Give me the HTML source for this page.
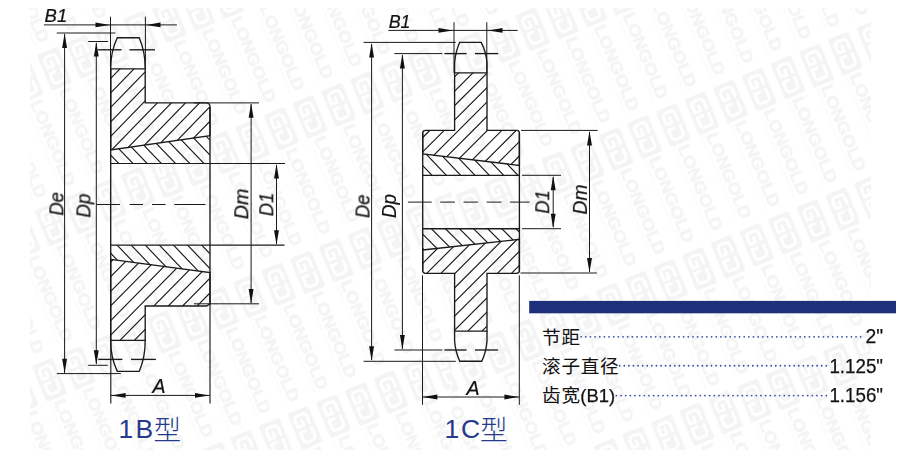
<!DOCTYPE html>
<html lang="zh">
<head>
<meta charset="utf-8">
<title>1B / 1C sprocket dimensions</title>
<style>
html,body{margin:0;padding:0;background:#fff}
body{width:900px;height:450px;overflow:hidden;position:relative;font-family:"Liberation Sans",sans-serif}
svg{position:absolute;left:0;top:0;display:block}
.ln{fill:none;stroke:#1a1a1a;stroke-linecap:butt;stroke-linejoin:miter}
.ln .ah{fill:#111;stroke:none}
text{font-family:"Liberation Sans","Noto Sans CJK SC",sans-serif}
.it{font-style:italic;fill:#111;stroke:#111;stroke-width:0.22;filter:url(#ga)}
.rg{fill:#111;stroke:#111;stroke-width:0.25;filter:url(#ga)}
.hid{fill:transparent;fill-opacity:0}
.dots{stroke:#3f4ea4;stroke-width:1.85;stroke-linecap:round;fill:none}
</style>
</head>
<body>
<svg width="900" height="450" viewBox="0 0 900 450">
<defs>
<filter id="ga" x="-20%" y="-20%" width="140%" height="140%" color-interpolation-filters="sRGB"><feOffset dx="0" dy="0"/></filter>
<pattern id="wmL" width="142.6" height="31.05" patternUnits="userSpaceOnUse" patternTransform="translate(278.9 284.4) rotate(67.4) translate(-19.5 -15.525)"><g transform="translate(19.5 15.525)"><rect x="-19.5" y="-11.25" width="39" height="22.5" rx="2.2" fill="#f4f4f4"/><g fill="none" stroke="#fff" stroke-width="3" stroke-linecap="round" stroke-linejoin="round"><path d="M-3.2,-6.2H-10.4a3.6,3.6 0 0 0 -3.6,3.6v5.2a3.6,3.6 0 0 0 3.6,3.6h7.4v-6h-5.2"/><path d="M2.6,0.6v5.6h7.8a3.6,3.6 0 0 0 3.6,-3.6v-5.2a3.6,3.6 0 0 0 -3.6,-3.6h-8"/></g><text x="21.8" y="4.6" font-family="'Liberation Sans',sans-serif" font-weight="700" font-size="16" fill="#f4f4f4" stroke="#f4f4f4" stroke-width="0.55" textLength="92" lengthAdjust="spacingAndGlyphs">LONGOLD</text><line x1="23" y1="8.8" x2="113" y2="8.8" stroke="#f4f4f4" stroke-width="2.4" stroke-dasharray="1.4 1.0" opacity="0.45"/></g></pattern>
<pattern id="wmR" width="142.6" height="31.05" patternUnits="userSpaceOnUse" patternTransform="translate(644.7 137.2) rotate(67.4) translate(-19.5 -15.525)"><g transform="translate(19.5 15.525)"><rect x="-19.5" y="-11.25" width="39" height="22.5" rx="2.2" fill="#f4f4f4"/><g fill="none" stroke="#fff" stroke-width="3" stroke-linecap="round" stroke-linejoin="round"><path d="M-3.2,-6.2H-10.4a3.6,3.6 0 0 0 -3.6,3.6v5.2a3.6,3.6 0 0 0 3.6,3.6h7.4v-6h-5.2"/><path d="M2.6,0.6v5.6h7.8a3.6,3.6 0 0 0 3.6,-3.6v-5.2a3.6,3.6 0 0 0 -3.6,-3.6h-8"/></g><text x="21.8" y="4.6" font-family="'Liberation Sans',sans-serif" font-weight="700" font-size="16" fill="#f4f4f4" stroke="#f4f4f4" stroke-width="0.55" textLength="92" lengthAdjust="spacingAndGlyphs">LONGOLD</text><line x1="23" y1="8.8" x2="113" y2="8.8" stroke="#f4f4f4" stroke-width="2.4" stroke-dasharray="1.4 1.0" opacity="0.45"/></g></pattern>
<clipPath id="b1"><path d="M110.7,68.8L145.2,68.8L145.2,102.9L206.0,102.9Q210.0,102.9 210.0,106.9L210.0,135.7L110.7,150.0Z"/></clipPath>
<clipPath id="b2"><path d="M110.7,150.0L210.0,135.7L210.0,163.5L110.7,163.5Z"/></clipPath>
<clipPath id="b3"><path d="M110.7,245.2L210.0,245.2L210.0,272.7L110.7,259.3Z"/></clipPath>
<clipPath id="b4"><path d="M110.7,259.3L210.0,272.7L210.0,303.8L206.6,306.0L145.2,306.0L145.2,340.3L110.7,340.3Z"/></clipPath>
<clipPath id="c1"><path d="M454.6,72.8L487.0,72.8L487.0,130.4L516.6,130.4Q519.4,130.4 519.4,133.20000000000002L519.4,165.4L422.7,154.0L422.7,133.20000000000002Q422.7,130.4 425.5,130.4L454.6,130.4Z"/></clipPath>
<clipPath id="c2"><path d="M422.7,154.0L519.4,165.4L519.4,175.3L422.7,175.3Z"/></clipPath>
<clipPath id="c3"><path d="M422.7,228.7L519.4,228.7L519.4,239.3L422.7,250.0Z"/></clipPath>
<clipPath id="c4"><path d="M422.7,250.0L519.4,239.3L519.4,270.5Q519.4,273.3 516.6,273.3L487.0,273.3L487.0,331.1L454.6,331.1L454.6,273.3L425.5,273.3Q422.7,273.3 422.7,270.5Z"/></clipPath>
</defs>
<rect x="30" y="8" width="421.5" height="442" fill="url(#wmL)"/>
<rect x="451.5" y="8" width="419.5" height="442" fill="url(#wmR)"/>
<g class="ln">
<path clip-path="url(#b1)" stroke-width="1.15" d="M110.7,49.4L210,-52.88M110.7,63.9L210,-38.38M110.7,78.4L210,-23.88M110.7,92.9L210,-9.38M110.7,107.4L210,5.13M110.7,121.91L210,19.63M110.7,136.41L210,34.13M110.7,150.91L210,48.63M110.7,165.41L210,63.14M110.7,179.92L210,77.64M110.7,194.42L210,92.14M110.7,208.92L210,106.64M110.7,223.42L210,121.15M110.7,237.93L210,135.65M110.7,252.43L210,150.15M110.7,266.93L210,164.65M110.7,281.43L210,179.15"/>
<path clip-path="url(#b2)" stroke-width="1.15" d="M110.7,184.62L210,287.89M110.7,169.85L210,273.12M110.7,155.08L210,258.35M110.7,140.31L210,243.58M110.7,125.54L210,228.82M110.7,110.78L210,214.05M110.7,96.01L210,199.28M110.7,81.24L210,184.51M110.7,66.47L210,169.74M110.7,51.7L210,154.98M110.7,36.94L210,140.21M110.7,22.17L210,125.44M110.7,7.4L210,110.67"/>
<path clip-path="url(#b3)" stroke-width="1.15" d="M110.7,297.59L210,401.86M110.7,282.79L210,387.05M110.7,267.98L210,372.25M110.7,253.18L210,357.44M110.7,238.37L210,342.63M110.7,223.56L210,327.83M110.7,208.76L210,313.03M110.7,193.96L210,298.22M110.7,179.15L210,283.42M110.7,164.34L210,268.61M110.7,149.54L210,253.81M110.7,134.74L210,239M110.7,119.93L210,224.2"/>
<path clip-path="url(#b4)" stroke-width="1.15" d="M110.7,232.85L210,132.06M110.7,247.47L210,146.68M110.7,262.08L210,161.29M110.7,276.7L210,175.91M110.7,291.32L210,190.53M110.7,305.93L210,205.14M110.7,320.55L210,219.76M110.7,335.16L210,234.37M110.7,349.78L210,248.99M110.7,364.4L210,263.61M110.7,379.01L210,278.22M110.7,393.63L210,292.84M110.7,408.24L210,307.45M110.7,422.86L210,322.07M110.7,437.48L210,336.69M110.7,452.09L210,351.3M110.7,466.71L210,365.92"/>
<path stroke-width="1.35" d="M110.7,68.8L145.2,68.8L145.2,102.9L206.0,102.9Q210.0,102.9 210.0,106.9L210.0,135.7L110.7,150.0Z"/>
<path stroke-width="1.35" d="M110.7,259.3L210.0,272.7L210.0,303.8L206.6,306.0L145.2,306.0L145.2,340.3L110.7,340.3Z"/>
<line x1="110.7" y1="68.8" x2="110.7" y2="340.3" stroke-width="1.35"/>
<line x1="210" y1="106.9" x2="210" y2="302" stroke-width="1.35"/>
<line x1="110.7" y1="163.5" x2="285" y2="163.5" stroke-width="1.215"/>
<line x1="110.7" y1="245.2" x2="284.5" y2="245.2" stroke-width="1.215"/>
<path stroke-width="1.35" d="M110.7,68.8Q110.6,51.5 117.3,37.7L139.2,37.7Q145.3,51.5 145.2,68.8"/>
<path stroke-width="1.35" d="M110.7,340.3Q110.6,357.5 117.3,371.4L139.2,371.4Q145.3,357.5 145.2,340.3"/>
<line x1="110.5" y1="16.7" x2="110.5" y2="68.8" stroke-width="1.0"/>
<line x1="145.4" y1="16.7" x2="145.4" y2="68.8" stroke-width="1.0"/>
<line x1="43.9" y1="24.9" x2="176.9" y2="24.9" stroke-width="1.0"/>
<polygon class="ah" points="110,24.9 95.5,22.45 95.5,27.35"/>
<polygon class="ah" points="146,24.9 160.5,22.45 160.5,27.35"/>
<line x1="56.8" y1="33" x2="115.4" y2="33" stroke-width="1.0"/>
<line x1="56.8" y1="373.6" x2="120.9" y2="373.6" stroke-width="1.0"/>
<line x1="64.6" y1="34" x2="64.6" y2="373" stroke-width="1.0"/>
<polygon class="ah" points="64.6,33.4 62.15,47.9 67.05,47.9"/>
<polygon class="ah" points="64.6,373.2 62.15,358.7 67.05,358.7"/>
<line x1="88.2" y1="41.5" x2="108.1" y2="41.5" stroke-width="1.0"/>
<line x1="88.2" y1="365.3" x2="107.8" y2="365.3" stroke-width="1.0"/>
<line x1="96.3" y1="43" x2="96.3" y2="364" stroke-width="1.0"/>
<polygon class="ah" points="96.3,42 93.85,56.5 98.75,56.5"/>
<polygon class="ah" points="96.3,364.8 93.85,350.3 98.75,350.3"/>
<line x1="97.9" y1="49.8" x2="121.6" y2="49.8" stroke-width="1.35"/>
<line x1="129.4" y1="49.8" x2="155" y2="49.8" stroke-width="1.35"/>
<line x1="98.3" y1="359.4" x2="122.4" y2="359.4" stroke-width="1.35"/>
<line x1="131" y1="359.4" x2="155.9" y2="359.4" stroke-width="1.35"/>
<line x1="96.3" y1="204.5" x2="120" y2="204.5" stroke-width="1.0"/>
<line x1="129.6" y1="204.5" x2="143" y2="204.5" stroke-width="1.0"/>
<line x1="152" y1="204.5" x2="165.6" y2="204.5" stroke-width="1.0"/>
<line x1="174.4" y1="204.5" x2="205.6" y2="204.5" stroke-width="1.0"/>
<line x1="194" y1="102.9" x2="259" y2="102.9" stroke-width="1.0"/>
<line x1="194" y1="303.8" x2="259" y2="303.8" stroke-width="1.0"/>
<line x1="251.1" y1="104" x2="251.1" y2="303" stroke-width="1.0"/>
<polygon class="ah" points="251.1,103.3 248.65,117.8 253.55,117.8"/>
<polygon class="ah" points="251.1,303.4 248.65,288.9 253.55,288.9"/>
<line x1="276.5" y1="165" x2="276.5" y2="244" stroke-width="1.0"/>
<polygon class="ah" points="276.5,163.9 274.05,178.4 278.95,178.4"/>
<polygon class="ah" points="276.5,244.8 274.05,230.3 278.95,230.3"/>
<line x1="110.8" y1="340.3" x2="110.8" y2="403.4" stroke-width="1.1475"/>
<line x1="210" y1="302" x2="210" y2="403.4" stroke-width="1.1475"/>
<line x1="110.7" y1="395.4" x2="209.8" y2="395.4" stroke-width="1.0"/>
<polygon class="ah" points="111.1,395.4 125.6,392.95 125.6,397.85"/>
<polygon class="ah" points="209.5,395.4 195,392.95 195,397.85"/>
</g>
<text class="it" x="44.6" y="21.5" font-size="18" transform="rotate(0.04 44.6 21.5)" textLength="22.6" lengthAdjust="spacingAndGlyphs">B1</text>
<text class="it" x="152.6" y="392.5" font-size="19.5" transform="rotate(0.04 152.6 392.5)">A</text>
<text class="it" x="63" y="215.6" font-size="20" transform="rotate(-90 63 215.6)" textLength="23.6" lengthAdjust="spacingAndGlyphs">De</text>
<text class="it" x="90" y="217.6" font-size="20" transform="rotate(-90 90 217.6)" textLength="24" lengthAdjust="spacingAndGlyphs">Dp</text>
<text class="it" x="248.5" y="219.2" font-size="20" transform="rotate(-90 248.5 219.2)" textLength="30.6" lengthAdjust="spacingAndGlyphs">Dm</text>
<text class="it" x="273.5" y="216.2" font-size="20" transform="rotate(-90 273.5 216.2)" textLength="23.4" lengthAdjust="spacingAndGlyphs">D1</text>
<g class="ln">
<path clip-path="url(#c1)" stroke-width="1.15" d="M422.7,51.1L519.4,-45.6M422.7,65.5L519.4,-31.2M422.7,79.9L519.4,-16.8M422.7,94.3L519.4,-2.4M422.7,108.7L519.4,12M422.7,123.1L519.4,26.4M422.7,137.5L519.4,40.8M422.7,151.9L519.4,55.2M422.7,166.3L519.4,69.6M422.7,180.7L519.4,84M422.7,195.1L519.4,98.4M422.7,209.5L519.4,112.8M422.7,223.9L519.4,127.2M422.7,238.3L519.4,141.6M422.7,252.7L519.4,156M422.7,267.1L519.4,170.4M422.7,281.5L519.4,184.8"/>
<path clip-path="url(#c2)" stroke-width="1.15" d="M422.7,195.63L519.4,297.16M422.7,180.58L519.4,282.12M422.7,165.53L519.4,267.07M422.7,150.49L519.4,252.02M422.7,135.44L519.4,236.98M422.7,120.4L519.4,221.93M422.7,105.35L519.4,206.88M422.7,90.3L519.4,191.84M422.7,75.26L519.4,176.79M422.7,60.21L519.4,161.74M422.7,45.16L519.4,146.7M422.7,30.12L519.4,131.65"/>
<path clip-path="url(#c3)" stroke-width="1.15" d="M422.7,276.5L519.4,373.2M422.7,262.4L519.4,359.1M422.7,248.3L519.4,345M422.7,234.2L519.4,330.9M422.7,220.1L519.4,316.8M422.7,206L519.4,302.7M422.7,191.9L519.4,288.6M422.7,177.8L519.4,274.5M422.7,163.7L519.4,260.4M422.7,149.6L519.4,246.3M422.7,135.5L519.4,232.2M422.7,121.4L519.4,218.1M422.7,107.3L519.4,204"/>
<path clip-path="url(#c4)" stroke-width="1.15" d="M422.7,220.94L519.4,124.24M422.7,235.06L519.4,138.36M422.7,249.18L519.4,152.48M422.7,263.3L519.4,166.6M422.7,277.42L519.4,180.72M422.7,291.54L519.4,194.84M422.7,305.66L519.4,208.96M422.7,319.78L519.4,223.08M422.7,333.9L519.4,237.2M422.7,348.02L519.4,251.32M422.7,362.14L519.4,265.44M422.7,376.26L519.4,279.56M422.7,390.38L519.4,293.68M422.7,404.5L519.4,307.8M422.7,418.62L519.4,321.92M422.7,432.74L519.4,336.04M422.7,446.86L519.4,350.16"/>
<path stroke-width="1.35" d="M454.6,72.8L487.0,72.8L487.0,130.4L516.6,130.4Q519.4,130.4 519.4,133.20000000000002L519.4,165.4L422.7,154.0L422.7,133.20000000000002Q422.7,130.4 425.5,130.4L454.6,130.4Z"/>
<path stroke-width="1.35" d="M422.7,250.0L519.4,239.3L519.4,270.5Q519.4,273.3 516.6,273.3L487.0,273.3L487.0,331.1L454.6,331.1L454.6,273.3L425.5,273.3Q422.7,273.3 422.7,270.5Z"/>
<line x1="422.7" y1="133.2" x2="422.7" y2="270.5" stroke-width="1.35"/>
<line x1="519.4" y1="133.2" x2="519.4" y2="270.5" stroke-width="1.35"/>
<line x1="422.7" y1="175.3" x2="519.4" y2="175.3" stroke-width="1.35"/>
<line x1="422.7" y1="228.7" x2="519.4" y2="228.7" stroke-width="1.35"/>
<path stroke-width="1.35" d="M454.6,72.8L454.6,63Q455.4,52 459.6,42.4L481.2,42.4Q486.2,52 487.0,63L487.0,72.8"/>
<path stroke-width="1.35" d="M454.6,331.1L454.6,341Q455.4,352 459.8,361.2L481.8,361.2Q486.2,352 487.0,341L487.0,331.1"/>
<line x1="454" y1="22.2" x2="454" y2="72.8" stroke-width="1.0"/>
<line x1="486.8" y1="22.2" x2="486.8" y2="72.8" stroke-width="1.0"/>
<line x1="388.4" y1="30.4" x2="517.7" y2="30.4" stroke-width="1.0"/>
<polygon class="ah" points="453,30.4 438.5,27.95 438.5,32.85"/>
<polygon class="ah" points="488,30.4 502.5,27.95 502.5,32.85"/>
<line x1="363.6" y1="42.4" x2="455.8" y2="42.4" stroke-width="1.0"/>
<line x1="363.6" y1="361.3" x2="455.8" y2="361.3" stroke-width="1.0"/>
<line x1="371.6" y1="44" x2="371.6" y2="360" stroke-width="1.0"/>
<polygon class="ah" points="371.6,42.9 369.15,57.4 374.05,57.4"/>
<polygon class="ah" points="371.6,360.8 369.15,346.3 374.05,346.3"/>
<line x1="394.4" y1="53.6" x2="442.4" y2="53.6" stroke-width="1.0"/>
<line x1="394.4" y1="350" x2="442.4" y2="350" stroke-width="1.0"/>
<line x1="402.4" y1="55" x2="402.4" y2="349" stroke-width="1.0"/>
<polygon class="ah" points="402.4,54.1 399.95,68.6 404.85,68.6"/>
<polygon class="ah" points="402.4,349.5 399.95,335 404.85,335"/>
<line x1="444.4" y1="53.6" x2="466.6" y2="53.6" stroke-width="1.35"/>
<line x1="475" y1="53.6" x2="498.2" y2="53.6" stroke-width="1.35"/>
<line x1="444.4" y1="350" x2="466.6" y2="350" stroke-width="1.35"/>
<line x1="475" y1="350" x2="498.2" y2="350" stroke-width="1.35"/>
<line x1="407.9" y1="202.1" x2="431.7" y2="202.1" stroke-width="1.0"/>
<line x1="440.2" y1="202.1" x2="454.9" y2="202.1" stroke-width="1.0"/>
<line x1="463.5" y1="202.1" x2="478.1" y2="202.1" stroke-width="1.0"/>
<line x1="486.7" y1="202.1" x2="501.4" y2="202.1" stroke-width="1.0"/>
<line x1="509.9" y1="202.1" x2="529.5" y2="202.1" stroke-width="1.0"/>
<line x1="522" y1="175.3" x2="561" y2="175.3" stroke-width="1.0"/>
<line x1="522" y1="228.7" x2="561" y2="228.7" stroke-width="1.0"/>
<line x1="553.2" y1="177" x2="553.2" y2="227" stroke-width="1.0"/>
<polygon class="ah" points="553.2,175.8 550.75,190.3 555.65,190.3"/>
<polygon class="ah" points="553.2,228.2 550.75,213.7 555.65,213.7"/>
<line x1="521" y1="130.4" x2="597.6" y2="130.4" stroke-width="1.0"/>
<line x1="520.5" y1="273" x2="596.8" y2="273" stroke-width="1.0"/>
<line x1="589.5" y1="132" x2="589.5" y2="272" stroke-width="1.0"/>
<polygon class="ah" points="589.5,130.9 587.05,145.4 591.95,145.4"/>
<polygon class="ah" points="589.5,272.5 587.05,258 591.95,258"/>
<line x1="422.5" y1="275.3" x2="422.5" y2="404.8" stroke-width="1.0"/>
<line x1="519.3" y1="275.3" x2="519.3" y2="404.8" stroke-width="1.0"/>
<line x1="422.5" y1="397" x2="519.3" y2="397" stroke-width="1.0"/>
<polygon class="ah" points="422.9,397 437.4,394.55 437.4,399.45"/>
<polygon class="ah" points="518.9,397 504.4,394.55 504.4,399.45"/>
</g>
<text class="it" x="388.7" y="27.5" font-size="18" transform="rotate(0.04 388.7 27.5)" textLength="21.8" lengthAdjust="spacingAndGlyphs">B1</text>
<text class="it" x="466.6" y="395" font-size="19.5" transform="rotate(0.04 466.6 395)">A</text>
<text class="it" x="369.5" y="218" font-size="20" transform="rotate(-90 369.5 218)" textLength="23.4" lengthAdjust="spacingAndGlyphs">De</text>
<text class="it" x="396" y="218" font-size="20" transform="rotate(-90 396 218)" textLength="24" lengthAdjust="spacingAndGlyphs">Dp</text>
<text class="it" x="549" y="213.7" font-size="20" transform="rotate(-90 549 213.7)" textLength="23.4" lengthAdjust="spacingAndGlyphs">D1</text>
<text class="it" x="586.5" y="214.6" font-size="20" transform="rotate(-90 586.5 214.6)" textLength="30.2" lengthAdjust="spacingAndGlyphs">Dm</text>
<g>
<text fill="#27398a" font-size="26.5" font-weight="300" x="118.4 135.6" y="438.2">1B<tspan x="153.5" y="439.8" font-size="27.6">型</tspan></text>
<text fill="#27398a" font-size="26.5" font-weight="300" x="444.4 461" y="438.2">1C<tspan x="480.1" y="439.8" font-size="27.6">型</tspan></text>
</g>
<rect x="529.2" y="300.9" width="366.8" height="12.4" fill="#1f307b"/>
<text fill="#111" x="542.1" y="344" font-size="18.6" letter-spacing="0.7">节距</text>
<path class="dots" d="M581.1,336.8h0M585.76,336.8h0M590.42,336.8h0M595.08,336.8h0M599.74,336.8h0M604.4,336.8h0M609.06,336.8h0M613.72,336.8h0M618.38,336.8h0M623.04,336.8h0M627.7,336.8h0M632.36,336.8h0M637.02,336.8h0M641.68,336.8h0M646.34,336.8h0M651,336.8h0M655.66,336.8h0M660.32,336.8h0M664.98,336.8h0M669.64,336.8h0M674.3,336.8h0M678.96,336.8h0M683.62,336.8h0M688.28,336.8h0M692.94,336.8h0M697.6,336.8h0M702.26,336.8h0M706.92,336.8h0M711.58,336.8h0M716.24,336.8h0M720.9,336.8h0M725.56,336.8h0M730.22,336.8h0M734.88,336.8h0M739.54,336.8h0M744.2,336.8h0M748.86,336.8h0M753.52,336.8h0M758.18,336.8h0M762.84,336.8h0M767.5,336.8h0M772.16,336.8h0M776.82,336.8h0M781.48,336.8h0M786.14,336.8h0M790.8,336.8h0M795.46,336.8h0M800.12,336.8h0M804.78,336.8h0M809.44,336.8h0M814.1,336.8h0M818.76,336.8h0M823.42,336.8h0M828.08,336.8h0M832.74,336.8h0M837.4,336.8h0M842.06,336.8h0M846.72,336.8h0M851.38,336.8h0M856.04,336.8h0M860.7,336.8h0"/>
<text fill="#111" x="542.1" y="373" font-size="18.6" letter-spacing="0.7">滚子直径</text>
<path class="dots" d="M619.7,365.7h0M624.29,365.7h0M628.88,365.7h0M633.47,365.7h0M638.06,365.7h0M642.66,365.7h0M647.25,365.7h0M651.84,365.7h0M656.43,365.7h0M661.02,365.7h0M665.61,365.7h0M670.2,365.7h0M674.79,365.7h0M679.38,365.7h0M683.98,365.7h0M688.57,365.7h0M693.16,365.7h0M697.75,365.7h0M702.34,365.7h0M706.93,365.7h0M711.52,365.7h0M716.11,365.7h0M720.7,365.7h0M725.3,365.7h0M729.89,365.7h0M734.48,365.7h0M739.07,365.7h0M743.66,365.7h0M748.25,365.7h0M752.84,365.7h0M757.43,365.7h0M762.02,365.7h0M766.62,365.7h0M771.21,365.7h0M775.8,365.7h0M780.39,365.7h0M784.98,365.7h0M789.57,365.7h0M794.16,365.7h0M798.75,365.7h0M803.34,365.7h0M807.94,365.7h0M812.53,365.7h0M817.12,365.7h0M821.71,365.7h0M826.3,365.7h0"/>
<text fill="#111" x="542.1" y="402.3" font-size="18.6" letter-spacing="0.7">齿宽</text>
<text class="rg" transform="rotate(0.04 580 402.3)" x="580.3" y="402.2" font-size="19.2" textLength="34.8" lengthAdjust="spacingAndGlyphs">(B1)</text>
<path class="dots" d="M616.3,395.6h0M620.97,395.6h0M625.63,395.6h0M630.3,395.6h0M634.97,395.6h0M639.63,395.6h0M644.3,395.6h0M648.97,395.6h0M653.63,395.6h0M658.3,395.6h0M662.97,395.6h0M667.63,395.6h0M672.3,395.6h0M676.97,395.6h0M681.63,395.6h0M686.3,395.6h0M690.97,395.6h0M695.63,395.6h0M700.3,395.6h0M704.97,395.6h0M709.63,395.6h0M714.3,395.6h0M718.97,395.6h0M723.63,395.6h0M728.3,395.6h0M732.97,395.6h0M737.63,395.6h0M742.3,395.6h0M746.97,395.6h0M751.63,395.6h0M756.3,395.6h0M760.97,395.6h0M765.63,395.6h0M770.3,395.6h0M774.97,395.6h0M779.63,395.6h0M784.3,395.6h0M788.97,395.6h0M793.63,395.6h0M798.3,395.6h0M802.97,395.6h0M807.63,395.6h0M812.3,395.6h0M816.97,395.6h0M821.63,395.6h0M826.3,395.6h0"/>
<text class="rg" transform="rotate(0.04 865 343)" x="865.5" y="343.4" font-size="19.5" textLength="17.6" lengthAdjust="spacingAndGlyphs">2&quot;</text>
<text class="rg" transform="rotate(0.04 829 372)" x="829.4" y="372.7" font-size="19.5" textLength="53.6" lengthAdjust="spacingAndGlyphs">1.125&quot;</text>
<text class="rg" transform="rotate(0.04 829 402)" x="829.4" y="402.1" font-size="19.5" textLength="53.6" lengthAdjust="spacingAndGlyphs">1.156&quot;</text>
</svg>
</body>
</html>
